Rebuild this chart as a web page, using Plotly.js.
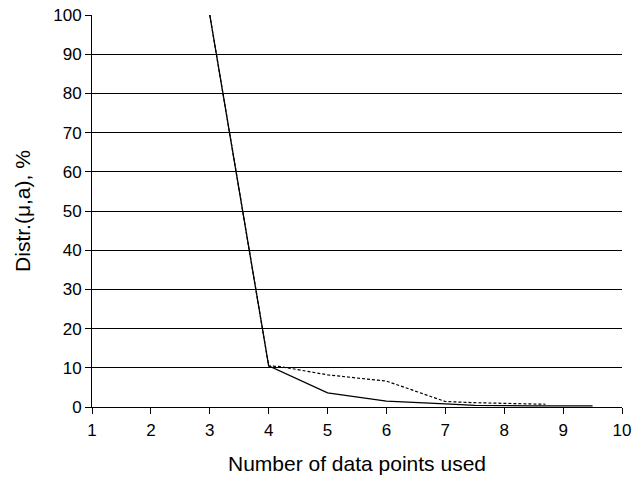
<!DOCTYPE html>
<html>
<head>
<meta charset="utf-8">
<script src="https://cdn.plot.ly/plotly-3.0.1.min.js"></script>
<style>html,body{margin:0;padding:0;background:#fff;}#chart{width:644px;height:478px;}</style>
</head>
<body>
<div id="chart"></div>
<script>
var solidX = [3, 4, 5, 6, 7, 7.5, 8.5, 9.5];
var solidY = [100, 10.5, 3.6, 1.5, 0.8, 0.4, 0.3, 0.3];
var dashX = [3, 4, 4.2, 5, 6, 7, 7.5, 8.7];
var dashY = [100, 10.5, 10.3, 8.2, 6.6, 1.4, 1.1, 0.7];
var xTicks = [1, 2, 3, 4, 5, 6, 7, 8, 9, 10];
var yTicks = [0, 10, 20, 30, 40, 50, 60, 70, 80, 90, 100];

var traces = [
  {x: dashX, y: dashY, mode: 'lines', line: {color: '#000', width: 1.2, dash: '3px,2px'}, hoverinfo: 'none'},
  {x: solidX, y: solidY, mode: 'lines', line: {color: '#000', width: 1.3}, hoverinfo: 'none'}
];
var fam = 'Liberation Sans, Arial, sans-serif';
var layout = {
  width: 644, height: 478,
  margin: {l: 92, r: 22, t: 15, b: 71},
  paper_bgcolor: '#fff', plot_bgcolor: '#fff',
  showlegend: false,
  font: {family: fam, color: '#000'},
  xaxis: {
    range: [1, 10], tickvals: xTicks, ticktext: xTicks.map(String),
    showgrid: false, zeroline: false, showline: true, linecolor: '#000', linewidth: 1,
    ticks: 'outside', ticklen: 6, tickcolor: '#000', ticklabelstandoff: 2,
    tickfont: {size: 17, family: fam, color: '#000'},
    title: {text: 'Number of data points used', font: {size: 21, family: fam, color: '#000'}, standoff: 16}
  },
  yaxis: {
    range: [0, 100], tickvals: yTicks, ticktext: yTicks.map(String),
    showgrid: true, gridcolor: '#000', gridwidth: 1, zeroline: false,
    showline: true, linecolor: '#000', linewidth: 1,
    ticks: 'outside', ticklen: 6, tickcolor: '#000',
    tickfont: {size: 17, family: fam, color: '#000'},
    title: {text: 'Distr.(μ,a), %', font: {size: 21, family: fam, color: '#000'}, standoff: 16}
  }
};
Plotly.newPlot('chart', traces, layout, {staticPlot: true, displayModeBar: false});
</script>
</body>
</html>
